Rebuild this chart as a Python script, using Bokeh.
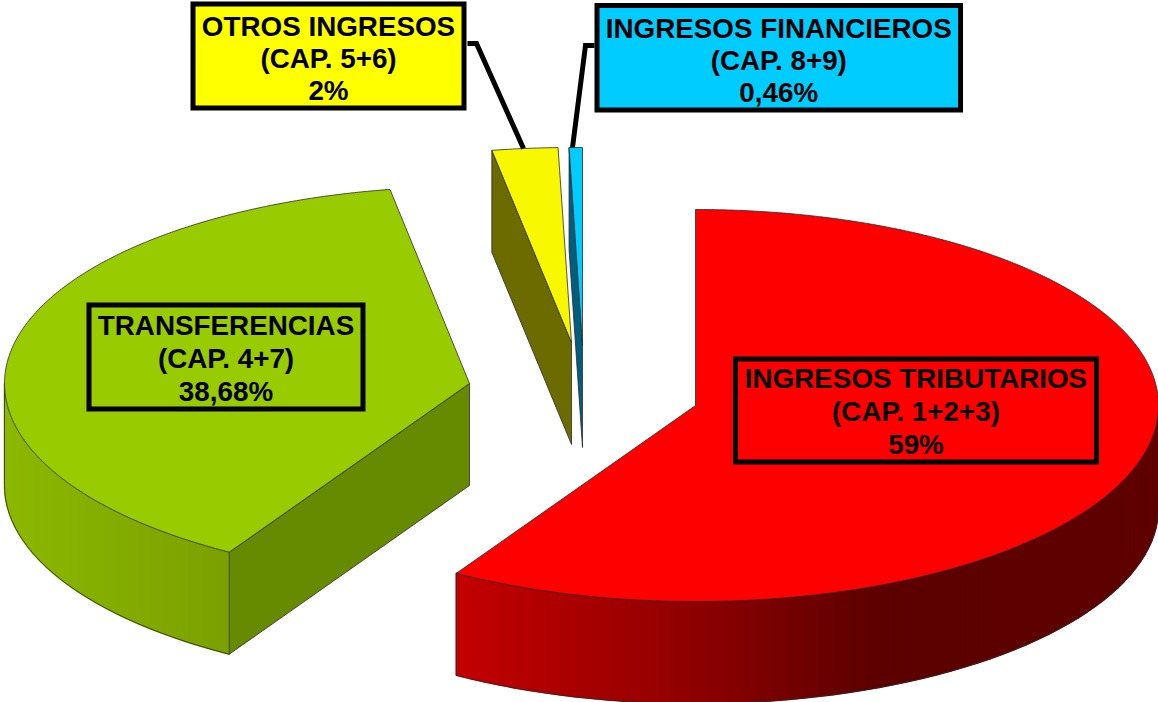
from math import sin, cos, radians
from bokeh.plotting import figure
from bokeh.embed import file_html
from bokeh.resources import INLINE
from bokeh.core.properties import value as val

# --- data ---
categories = ["INGRESOS TRIBUTARIOS", "TRANSFERENCIAS", "OTROS INGRESOS", "INGRESOS FINANCIEROS"]
chapters = ["(CAP. 1+2+3)", "(CAP. 4+7)", "(CAP. 5+6)", "(CAP. 8+9)"]
percent_labels = ["59%", "38,68%", "2%", "0,46%"]
values = [59, 38.68, 2, 0.46]

# --- geometry (image pixels) of the exploded 3D pie ---
W, H = 1158, 702
total = sum(values)
angle_nudge = [-1.0, 0.0, 1.0, 0.0]   # perspective correction, degrees
geom = [
    dict(cx=695, cy=405, rx=463, ry=196),
    dict(cx=469, cy=383, rx=465, ry=197),
    dict(cx=571, cy=342, rx=466, ry=195),
    dict(cx=582, cy=345, rx=466, ry=198),
]
depth = 102
top_col = ["#ff0000", "#99cc00", "#f8f800", "#00ccff"]
side_col = ["#c00000", "#668a00", "#6b6b00", "#005f7f"]
EDGE = "#2b2b2b"

boxes = [
    dict(x0=735, x1=1096, y0=358.5, y1=461.5, fill=None, lines=[378, 411, 444]),
    dict(x0=88.5, x1=362.5, y0=304.5, y1=408.5, fill=None, lines=[325, 358, 391]),
    dict(x0=192.5, x1=463.5, y0=3.5, y1=107.5, fill="#ffff00", lines=[26, 58, 90]),
    dict(x0=596.5, x1=960, y0=5, y1=109.5, fill="#00ccff", lines=[28, 60, 92]),
]
leaders = [
    ([467, 476, 523], [43, 43, 148]),
    ([594, 585, 572], [45, 45, 147]),
]

p = figure(width=W, height=H, x_range=(0, W), y_range=(H, 0),
           output_backend="svg", toolbar_location=None, min_border=0,
           background_fill_color="white", border_fill_color="white")
p.axis.visible = False
p.grid.visible = False
p.outline_line_color = None

def pt(g, a):
    t = radians(a)
    return g["cx"] + g["rx"] * sin(t), g["cy"] - g["ry"] * cos(t)

def lerp_col(stops, x):
    if x <= stops[0][0]:
        return stops[0][1]
    for (x0, c0), (x1, c1) in zip(stops, stops[1:]):
        if x <= x1:
            f = (x - x0) / (x1 - x0)
            return tuple(round(a + (b - a) * f) for a, b in zip(c0, c1))
    return stops[-1][1]

wall_stops = [
    [(456, (196, 0, 0)), (660, (150, 0, 0)), (880, (92, 0, 0)), (1158, (96, 0, 0))],
    [(4, (140, 184, 0)), (230, (122, 160, 0))],
    [(0, (107, 107, 0)), (1158, (107, 107, 0))],
    [(0, (0, 95, 127)), (1158, (0, 95, 127))],
]

def hexc(c):
    return "#%02x%02x%02x" % tuple(c)

starts = []
a = 0.0
spans = []
for v, n in zip(values, angle_nudge):
    s = v / total * 360 + n
    starts.append(a)
    spans.append(s)
    a += s

def draw_slice(i):
    g, a0, a1 = geom[i], starts[i], starts[i] + spans[i]
    cx, cy = g["cx"], g["cy"]
    steps = max(6, int((a1 - a0) * 2))
    angs = [a0 + (a1 - a0) * k / steps for k in range(steps + 1)]
    arc = [pt(g, t) for t in angs]

    # cut faces (visible ones only)
    if i == 1:
        x0, y0 = arc[0]
        p.patch([x0, cx, cx, x0], [y0, cy, cy + depth, y0 + depth],
                fill_color=side_col[i], line_color=EDGE, line_width=0.8)
    if i in (2, 3):
        x1, y1 = arc[0]
        p.patch([x1, cx, cx, x1], [y1, cy, cy + depth, y1 + depth],
                fill_color=side_col[i], line_color=EDGE, line_width=0.8)

    # outer wall: strips for the facing part of the rim
    lo, hi = max(a0, 90), min(a1, 270)
    if lo < hi:
        n = int((hi - lo) / 2)
        ts = [lo + (hi - lo) * k / n for k in range(n + 1)]
        xs_list, ys_list, cols = [], [], []
        for t0, t1 in zip(ts, ts[1:]):
            xa, ya = pt(g, t0)
            xb, yb = pt(g, t1)
            xs_list.append([xa, xb, xb, xa])
            ys_list.append([ya, yb, yb + depth, ya + depth])
            cols.append(hexc(lerp_col(wall_stops[i], (xa + xb) / 2)))
        p.patches(xs_list, ys_list, fill_color=cols, line_color=cols, line_width=1.6)
        rim = [pt(g, t) for t in ts]
        p.line([q[0] for q in rim], [q[1] + depth for q in rim], line_color=EDGE, line_width=0.8)
        for q in (rim[0], rim[-1]):
            p.line([q[0], q[0]], [q[1], q[1] + depth], line_color=EDGE, line_width=0.8)

    # top face
    xs = [cx] + [q[0] for q in arc]
    ys = [cy] + [q[1] for q in arc]
    p.patch(xs, ys, fill_color=top_col[i], line_color=EDGE, line_width=0.8)

for i in [1, 2, 3, 0]:
    draw_slice(i)

for xs, ys in leaders:
    p.line(xs, ys, line_color="black", line_width=5, line_join="miter")

for b, c, ch, pc in zip(boxes, categories, chapters, percent_labels):
    p.quad(left=[b["x0"]], right=[b["x1"]], top=[b["y0"]], bottom=[b["y1"]],
           fill_color=b["fill"], fill_alpha=1.0 if b["fill"] else 0.0,
           line_color="black", line_width=5, line_join="miter")
    xm = (b["x0"] + b["x1"]) / 2
    p.text([xm] * 3, b["lines"], text=[c, ch, pc], text_align="center", text_baseline="middle",
           text_font=val("Liberation Sans"), text_font_style="bold",
           text_font_size="27.8px", text_color="black")

open("out.html", "w").write(file_html(p, INLINE))
